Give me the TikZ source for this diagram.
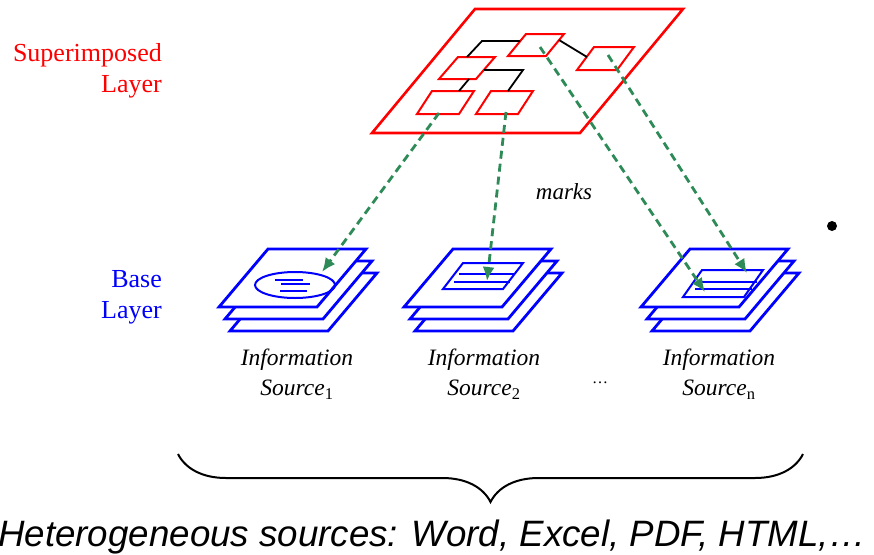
\documentclass[tikz,border=0pt]{standalone}
\usepackage{fontspec}
\setmainfont{Liberation Serif}
\newfontfamily\headfont{Liberation Sans}
\usetikzlibrary{arrows.meta}
\usetikzlibrary{decorations.pathreplacing}

\definecolor{markgreen}{RGB}{46,139,87}

% parallelogram: top-left x, y, width, height, shear
\newcommand{\plate}[6][]{%
    \draw[#1] (#2,#3) -- ++(#4,0) -- ++(-#6,#5) -- ++(-#4,0) -- cycle;}

% three stacked sheets, top-left corner of the top sheet
\newcommand{\docstack}[2]{%
    \plate[sheet]{#1+11}{#2+24}{98}{58}{49}
    \plate[sheet]{#1+6}{#2+12}{98}{58}{49}
    \plate[sheet]{#1}{#2}{98}{58}{49}}

\begin{document}
\begin{tikzpicture}[
        x=1pt, y=-1pt,
        sheet/.style={draw=blue, line width=2.8pt, fill=white},
        inner/.style={draw=blue, line width=2pt},
        markbox/.style={draw=red, line width=2pt},
        link/.style={black, line width=1.8pt},
        markarrow/.style={draw=markgreen, line width=2.8pt, dash pattern=on 8pt off 5pt,
                     -{Latex[length=14pt,width=12pt]}},
        lbl/.style={font=\fontsize{26}{31}\selectfont, align=right, inner sep=0pt},
        srclbl/.style={font=\fontsize{23.5}{30}\selectfont\itshape, align=center, inner sep=0pt},
    ]
    \useasboundingbox (0,0) rectangle (874,554);

    % superimposed layer
    \draw[red, line width=2.6pt] (475,9) -- (683,9) -- (580,133) -- (372,133) -- cycle;
    \plate[markbox]{526}{34}{38}{22}{18}
    \plate[markbox]{594}{47}{40}{23}{17}
    \plate[markbox]{458}{57}{37}{22}{19}
    \plate[markbox]{432}{91}{42}{23}{15}
    \plate[markbox]{491}{91}{42}{23}{15}

    \coordinate (a-w) at (520,41);
    \coordinate (a-e) at (559,40);
    \coordinate (a-s) at (540,47);
    \coordinate (b-w) at (587,57);
    \coordinate (b-s) at (608,55);
    \coordinate (c-n) at (467,57);
    \coordinate (c-e) at (484,70);
    \coordinate (c-s) at (469,79);
    \coordinate (d-n) at (459,91);
    \coordinate (d-s) at (439,113);
    \coordinate (e-n) at (508,91);
    \coordinate (e-s) at (506,112);

    \draw[link] (c-n) -- (482,41) -- (a-w);
    \draw[link] (c-e) -- (523,70) -- (e-n);
    \draw[link] (c-s) -- (d-n);
    \draw[link] (a-e) -- (b-w);

    % base layer
    \docstack{268}{249}
    \draw[inner] (295,285) ellipse (40 and 13);
    \draw[inner] (275,280) -- (303,280);
    \draw[inner] (281,284) -- (310,284);
    \draw[inner] (280,291) -- (307,291);

    \docstack{453}{249}
    \plate[inner]{463}{263}{60}{26}{20}
    \draw[inner] (459,274) -- (515,274);
    \draw[inner] (454,282) -- (510,282);

    \docstack{690}{249}
    \plate[inner]{702}{270}{61}{27}{19}
    \draw[inner] (698,282) -- (757,282);
    \draw[inner] (695,289) -- (752,289);

    \coordinate (s1-t) at (322,272);
    \coordinate (s2-t) at (487,281);
    \coordinate (sn-t1) at (705,292);
    \coordinate (sn-t2) at (747,273);

    \draw[markarrow] (d-s) -- (s1-t);
    \draw[markarrow] (e-s) -- (s2-t);
    \draw[markarrow] (a-s) -- (sn-t1);
    \draw[markarrow] (b-s) -- (sn-t2);

    % labels
    \node[lbl, red, anchor=north east] (suplbl) at (162,43.5) {Superimposed\\Layer};
    \node[lbl, blue, anchor=north east] (baselbl) at (162,270) {Base\\Layer};
    \node[font=\fontsize{23}{28}\selectfont\itshape, anchor=base] (marks) at (564,199) {marks};

    \node[srclbl, anchor=north] (src1) at (297,349) {Information\\Source\textsubscript{\upshape 1}};
    \node[srclbl, anchor=north] (src2) at (484,349) {Information\\Source\textsubscript{\upshape 2}};
    \node[srclbl, anchor=north] (srcn) at (719,349) {Information\\Source\textsubscript{\upshape n}};
    \node[font=\fontsize{16}{18}\selectfont, anchor=base] (more) at (600,383) {\dots};

    \node[circle, fill=black, inner sep=0pt, minimum size=10pt] (bullet) at (832,226) {};

    % brace over all sources
    \coordinate (br-l) at (178,454);
    \coordinate (br-r) at (803,454);
    \draw[line width=2pt, decoration={brace, mirror, amplitude=48pt}, decorate] (br-l) -- (br-r);
    \node[font=\headfont\itshape\fontsize{36.7}{40}\selectfont, anchor=base east, inner sep=0pt]
        (hetero) at (866,546) {Heterogeneous sources: Word, Excel, PDF, HTML,…};
\end{tikzpicture}
\end{document}
